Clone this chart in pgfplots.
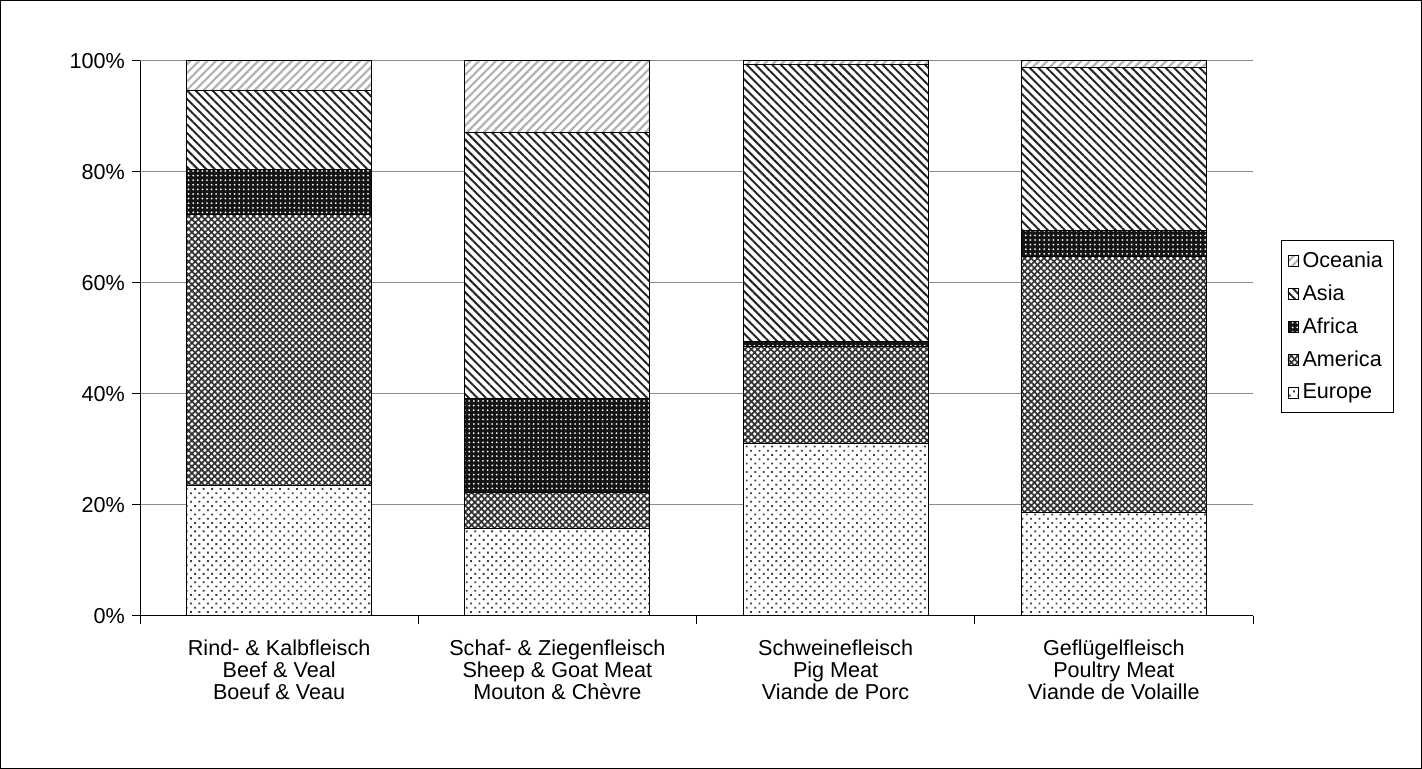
\documentclass[border=0pt]{standalone}
\usepackage{fontspec}
\setmainfont{Liberation Sans}
\usepackage{pgfplots}
\pgfplotsset{compat=1.18}
\usetikzlibrary{patterns.meta}

\begin{document}
\begin{tikzpicture}
  % outer chart frame (1 px = 0.5 pt)
  \draw[black, line width=0.6pt] (0.3pt,0.3pt) rectangle (710.7pt,384.2pt);
  \begin{axis}[
      at={(70pt,76.5pt)}, anchor=south west,
      scale only axis,
      width=556.5pt, height=277.5pt,
      ybar stacked,
      bar width=0.665,
      xmin=-0.5, xmax=3.5,
      ymin=0, ymax=100,
      xtick={-0.5,0.5,1.5,2.5,3.5},
      x tick label as interval,
      xticklabels={
        {Rind- \& Kalbfleisch\\Beef \& Veal\\Boeuf \& Veau},
        {Schaf- \& Ziegenfleisch\\Sheep \& Goat Meat\\Mouton \& Chèvre},
        {Schweinefleisch\\Pig Meat\\Viande de Porc},
        {Geflügelfleisch\\Poultry Meat\\Viande de Volaille}},
      xticklabel style={align=center, font=\fontsize{10.8}{11}\selectfont, yshift=-4.5pt},
      ytick={0,20,40,60,80,100},
      yticklabels={0\%,20\%,40\%,60\%,80\%,100\%},
      yticklabel style={font=\fontsize{10.8}{12}\selectfont},
      tick align=outside,
      major tick length=4pt,
      tick style={black, line width=0.5pt},
      axis x line*=bottom,
      axis y line*=left,
      axis line style={-, black, line width=0.5pt},
      ymajorgrids,
      major grid style={black!45, line width=0.5pt},
      every axis plot/.append style={draw=black, line width=0.5pt},
      reverse legend,
      legend cell align=left,
      legend style={at={(1.0252,0.5216)}, anchor=west,
        draw=black, line width=0.5pt,
        font=\fontsize{10.8}{12}\selectfont,
        row sep=3.2pt, inner xsep=3pt, inner ysep=3.5pt},
      legend image code/.code={\draw[#1, line width=0.3pt] (0pt,-2.6pt) rectangle (5.2pt,2.6pt);},
    ]
    % Europe
    \addplot[fill=white, postaction={pattern={Dots[angle=45, distance=3pt, radius=0.65pt]}, pattern color=black!75}]
      coordinates {(0,23.5) (1,15.7) (2,31.0) (3,18.6)};
    % America
    \addplot[fill=white, postaction={pattern={Hatch[angle=45, distance=2.3pt, line width=0.85pt]}, pattern color=black!80}]
      coordinates {(0,48.8) (1,6.6) (2,17.5) (3,46.1)};
    % Africa
    \addplot[fill=black!92, postaction={pattern={Dots[distance=2.3pt, radius=0.5pt]}, pattern color=white}]
      coordinates {(0,8.1) (1,16.8) (2,1.0) (3,4.8)};
    % Asia
    \addplot[fill=white, postaction={pattern={Lines[angle=-45, distance=3pt, line width=1pt]}, pattern color=black!85}]
      coordinates {(0,14.2) (1,48.1) (2,49.8) (3,29.4)};
    % Oceania
    \addplot[fill=white, postaction={pattern={Lines[angle=45, distance=3pt, line width=1.1pt]}, pattern color=black!30}]
      coordinates {(0,5.4) (1,12.8) (2,0.7) (3,1.1)};
    \legend{Europe, America, Africa, Asia, Oceania}
  \end{axis}
\end{tikzpicture}
\end{document}
